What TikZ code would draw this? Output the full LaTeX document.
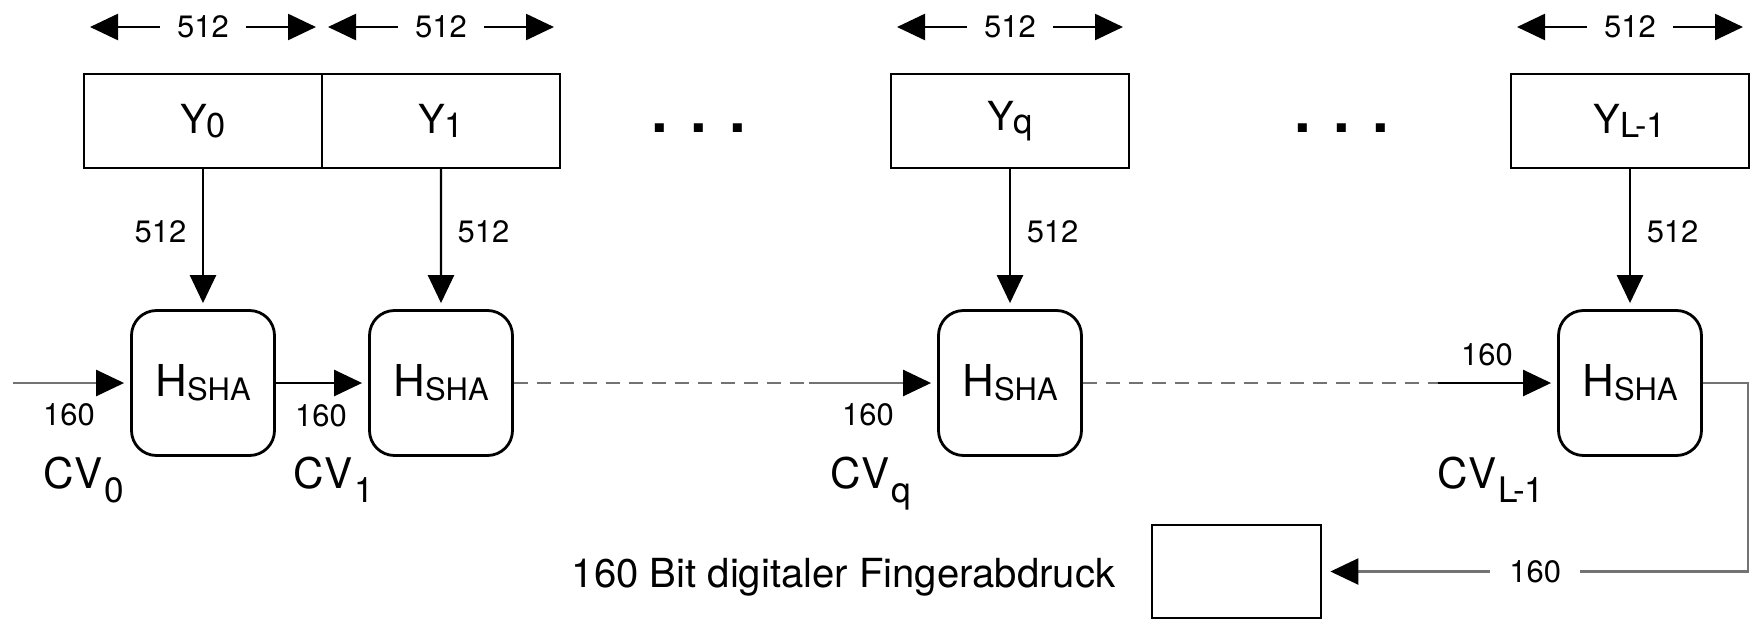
\documentclass[tikz,border=0pt]{standalone}
\usepackage{fontspec}
\setmainfont{TeX Gyre Heros}
\usetikzlibrary{arrows.meta}

\newcommand{\hsha}{{\fontsize{12.5}{14}\selectfont H}\raisebox{-1.1pt}{\fontsize{8.8}{10}\selectfont SHA}}
\newcommand{\yblock}[1]{{\fontsize{11.4}{13}\selectfont Y}\raisebox{-1pt}{\fontsize{9.8}{12}\selectfont #1}}
\newcommand{\cvname}[1]{{\fontsize{12}{14}\selectfont CV}\kern0.5pt\raisebox{-4pt}{\fontsize{10}{12}\selectfont #1}}

\begin{document}
\begin{tikzpicture}[
  tip/.style={-{Triangle[length=2.8mm, width=2.6mm, color=black]}},
  tips/.style={{Triangle[length=2.8mm, width=2.6mm]}-{Triangle[length=2.8mm, width=2.6mm]}},
  block/.style={draw, line width=0.8pt, outer sep=0pt, minimum width=2.38cm, minimum height=0.94cm, inner sep=0pt},
  hbox/.style={draw, line width=0.8pt, rounded corners=2.5mm, minimum width=1.43cm, minimum height=1.45cm, inner sep=0pt},
  num/.style={font=\fontsize{8.8}{10}\selectfont, inner sep=1pt},
  wire/.style={line width=0.7pt, shorten >=0.6mm},
  grey wire/.style={wire, draw=black!55},
  dash wire/.style={line width=0.6pt, draw=black!55, dash pattern=on 1.4mm off 0.9mm}]
\useasboundingbox (0,0) rectangle (17.54,6.28);

% message blocks
\node[block] (y0) at (2.03,5.07) {\yblock{0}};
\node[block, anchor=west] (y1) at (y0.east) {\yblock{1}};
\node[block] (yq) at (10.10,5.07) {\yblock{q}};
\node[block] (yl) at (16.30,5.07) {\yblock{L-1}};
\node[font=\fontsize{17}{20}\selectfont\bfseries] (dots1) at (6.99,5.0) {. . .};
\node[font=\fontsize{17}{20}\selectfont\bfseries] (dots2) at (13.42,5.0) {. . .};

% compression functions
\node[hbox] (h0) at (2.03,2.45) {\hsha};
\node[hbox] (h1) at (4.41,2.45) {\hsha};
\node[hbox] (hq) at (10.10,2.45) {\hsha};
\node[hbox] (hl) at (16.30,2.45) {\hsha};

% block widths
\foreach \b in {y0,y1,yq,yl}
  \draw[tips, line width=0.7pt, shorten <=0.6mm, shorten >=0.6mm] ([yshift=4.7mm]\b.north west) -- node[num, fill=white, inner xsep=4.8pt]{512} ([yshift=4.7mm]\b.north east);

% block inputs
\foreach \b/\h/\s in {y0/h0/left, y1/h1/right, yq/hq/right, yl/hl/right}
  \draw[tip, wire] (\b.south) -- node[num, pos=0.45, \s=1.2mm]{512} (\h.north);

% chaining values
\coordinate (start) at (0.13,2.45);
\coordinate (jq) at (8.09,2.45);
\coordinate (jl) at (14.38,2.45);
\draw[tip, grey wire] (start) -- (h0.west);
\draw[tip, wire] (h0.east) -- (h1.west);
\draw[dash wire] (h1.east) -- (jq);
\draw[tip, grey wire] (jq) -- (hq.west);
\draw[dash wire] (hq.east) -- (jl);
\draw[tip, wire] (jl) -- (hl.west);

\node[num] (n0) at (0.69,2.13) {160};
\node[num] (n1) at (3.21,2.12) {160};
\node[num] (nq) at (8.68,2.13) {160};
\node[num] (nl) at (14.87,2.73) {160};
\node[anchor=base west, inner sep=0pt] (cv0) at (0.43,1.40) {\cvname{0}};
\node[anchor=base west, inner sep=0pt] (cv1) at (2.93,1.40) {\cvname{1}};
\node[anchor=base west, inner sep=0pt] (cvq) at (8.30,1.40) {\cvname{q}};
\node[anchor=base west, inner sep=0pt] (cvl) at (14.37,1.40) {\cvname{L-1}};

% result
\node[draw, line width=0.8pt, minimum width=1.69cm, minimum height=0.93cm] (out) at (12.365,0.565) {};
\node[anchor=base east, inner sep=0pt, font=\fontsize{11.4}{13}\selectfont] (fp) at (11.16,0.41) {160 Bit digitaler Fingerabdruck};
\coordinate (c1) at (17.48,2.45);
\coordinate (c2) at (17.48,0.565);
\draw[tip, grey wire, shorten >=0.8mm] (hl.east) -- (c1) -- (c2) -- node[num, fill=white, inner xsep=5.4pt]{160} (out.east);
\end{tikzpicture}
\end{document}
